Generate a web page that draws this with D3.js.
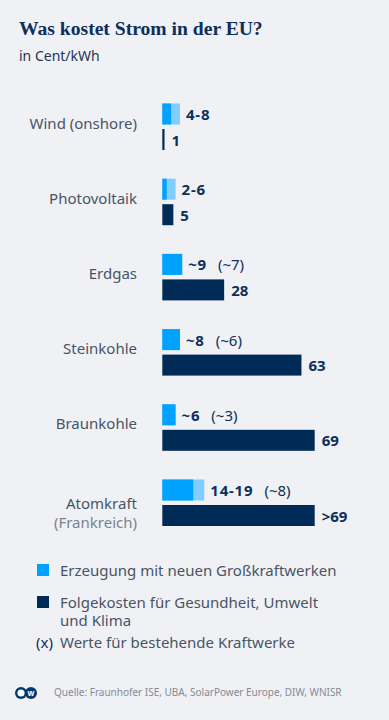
<!DOCTYPE html>
<html>
<head>
<meta charset="utf-8">
<script src="https://cdn.jsdelivr.net/npm/d3@7"></script>
<style>
  body { margin: 0; background: #f0f1f4; }
  svg { display: block; font-family: "Noto Sans", sans-serif; }
</style>
</head>
<body>
<script>
// data
const categories = ["Wind (onshore)", "Photovoltaik", "Erdgas", "Steinkohle", "Braunkohle", "Atomkraft"];
const subLabels = ["", "", "", "", "", "(Frankreich)"];
const genLow = [4, 2, 9, 8, 6, 14];
const genHigh = [8, 6, 9, 8, 6, 19];
const genLabels = ["4-8", "2-6", "~9", "~8", "~6", "14-19"];
const existingLabels = ["", "", "(~7)", "(~6)", "(~3)", "(~8)"];
const costValues = [1, 5, 28, 63, 69, 69];
const costLabels = ["1", "5", "28", "63", "69", ">69"];
const legendItems = ["Erzeugung mit neuen Großkraftwerken", "Folgekosten für Gesundheit, Umwelt|und Klima"];

const w = 389;
const h = 720;
const barH = 21;

const svg = d3.select("body")
  .append("svg")
  .attr("width", w)
  .attr("height", h);

svg.append("rect").attr("width", w).attr("height", h).attr("fill", "#f0f1f4");

// title
svg.append("text")
  .attr("x", 19).attr("y", 35)
  .attr("font-family", "Liberation Serif, serif")
  .attr("font-weight", "bold")
  .attr("font-size", 19.6)
  .attr("fill", "#0c2f5c")
  .text("Was kostet Strom in der EU?");

svg.append("text")
  .attr("x", 19).attr("y", 61)
  .attr("font-size", 14)
  .attr("fill", "#1f3554")
  .text("in Cent/kWh");

const x = d3.scaleLinear().domain([0, 69]).range([162.3, 314.7]);
const y = d3.scaleBand().domain(categories).range([103.5, 103.5 + 75.2 * 6]);

const rows = categories.map((c, i) => ({
  cat: c, sub: subLabels[i], lo: genLow[i], hi: genHigh[i],
  gl: genLabels[i], ex: existingLabels[i], cost: costValues[i], cl: costLabels[i]
}));

const g = svg.selectAll("g.row")
  .data(rows)
  .enter()
  .append("g")
  .attr("class", "row")
  .attr("transform", (d) => "translate(0," + y(d.cat) + ")");

// category labels
g.append("text")
  .attr("x", 137)
  .attr("y", (d) => d.sub ? 29 : 25)
  .attr("text-anchor", "end")
  .attr("font-size", 15)
  .attr("fill", "#485466")
  .text((d) => d.cat);

g.filter((d) => d.sub)
  .append("text")
  .attr("x", 137)
  .attr("y", 48)
  .attr("text-anchor", "end")
  .attr("font-size", 15)
  .attr("fill", "#7a828e")
  .text((d) => d.sub);

// generation range (light part up to high)
g.append("rect")
  .attr("x", x(0))
  .attr("y", 0)
  .attr("width", (d) => x(d.hi) - x(0))
  .attr("height", barH)
  .attr("fill", "#80cdff");

g.append("rect")
  .attr("x", x(0))
  .attr("y", 0)
  .attr("width", (d) => x(d.lo) - x(0))
  .attr("height", barH)
  .attr("fill", "#00a2ff");

// follow-up costs
g.append("rect")
  .attr("x", x(0))
  .attr("y", 25.5)
  .attr("width", (d) => x(d.cost) - x(0))
  .attr("height", barH)
  .attr("fill", "#002b57");

// value labels
const gl = g.append("text")
  .attr("x", (d) => x(d.hi) + 6)
  .attr("y", 16.5)
  .attr("font-size", 15)
  .attr("fill", "#0c2f5c");

gl.append("tspan")
  .attr("font-weight", "bold")
  .attr("letter-spacing", 0.8)
  .text((d) => d.gl);

gl.append("tspan")
  .attr("dx", 11)
  .text((d) => d.ex);

g.append("text")
  .attr("x", (d) => x(d.cost) + 7)
  .attr("y", 25.5 + 16.5)
  .attr("font-size", 15)
  .attr("font-weight", "bold")
  .attr("fill", "#0c2f5c")
  .text((d) => d.cl);

// legend
const legendColors = ["#00a2ff", "#002b57"];
const legendY = [564, 596];

legendItems.forEach((t, i) => {
  svg.append("rect")
    .attr("x", 37).attr("y", legendY[i])
    .attr("width", 12).attr("height", 12)
    .attr("fill", legendColors[i]);
  t.split("|").forEach((line, j) => {
    svg.append("text")
      .attr("x", 60).attr("y", legendY[i] + 12 + j * 18)
      .attr("font-size", 15)
      .attr("fill", "#485466")
      .text(line);
  });
});

svg.append("text")
  .attr("x", 36).attr("y", 648)
  .attr("font-size", 15)
  .attr("fill", "#0c2f5c")
  .text("(x)");

svg.append("text")
  .attr("x", 60).attr("y", 648)
  .attr("font-size", 15)
  .attr("fill", "#485466")
  .text("Werte für bestehende Kraftwerke");

// footer logo
const logo = svg.append("g").attr("transform", "translate(15,687)");
logo.append("circle").attr("cx", 6).attr("cy", 6).attr("r", 6).attr("fill", "#05386b");
logo.append("circle").attr("cx", 16).attr("cy", 6).attr("r", 6).attr("fill", "#05386b");
logo.append("circle").attr("cx", 6).attr("cy", 6).attr("r", 3.6).attr("fill", "#fff");
logo.append("text")
  .attr("x", 16).attr("y", 9)
  .attr("text-anchor", "middle")
  .attr("font-size", 8)
  .attr("font-weight", "bold")
  .attr("fill", "#fff")
  .text("w");

svg.append("text")
  .attr("x", 54).attr("y", 696)
  .attr("font-size", 10)
  .attr("fill", "#858a94")
  .text("Quelle: Fraunhofer ISE, UBA, SolarPower Europe, DIW, WNISR");
</script>
</body>
</html>
